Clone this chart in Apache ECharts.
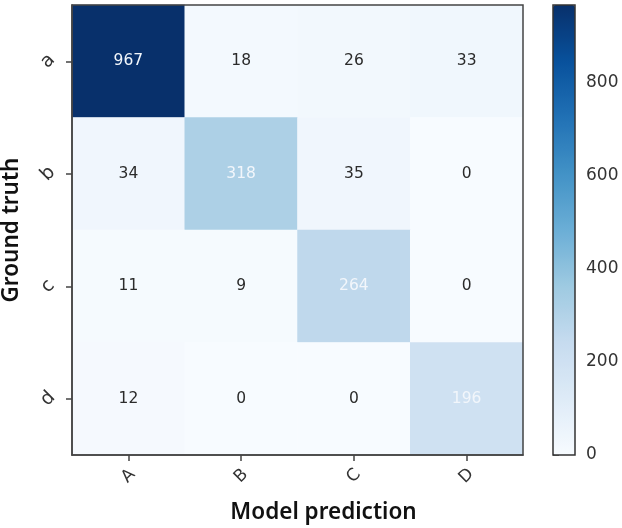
<!DOCTYPE html>
<html>
<head>
<meta charset="utf-8">
<script src="https://cdn.jsdelivr.net/npm/echarts@6/dist/echarts.min.js"></script>
<style>html,body{margin:0;padding:0;background:#fff}#c{width:622px;height:528px}</style>
</head>
<body>
<div id="c"></div>
<script>
const predicted = ['A', 'B', 'C', 'D'];
const truth = ['a', 'b', 'c', 'd'];
const rowA = [967, 18, 26, 33];
const rowB = [34, 318, 35, 0];
const rowC = [11, 9, 264, 0];
const rowD = [12, 0, 0, 196];
const rows = [rowA, rowB, rowC, rowD];
const colorbarMax = 967;
const blues = ['#f7fbff','#deebf7','#c6dbef','#9ecae1','#6baed6','#4292c6','#2171b5','#08519c','#08306b'];
const lightTextFrom = 150;

const cells = [];
rows.forEach((row, r) => row.forEach((v, c) => {
  cells.push({ value: [c, r, v], label: { color: v >= lightTextFrom ? '#f2f6fb' : '#2b2b2b' } });
}));

const axisLine = { show: true, lineStyle: { color: '#444', width: 1.5 } };
const axisTick = { show: true, alignWithLabel: true, length: 6, lineStyle: { color: '#444', width: 1.5 } };
const nameStyle = { fontFamily: 'Noto Sans', fontSize: 22.5, fontWeight: 600, color: '#111' };
const labelStyle = { fontFamily: 'DejaVu Sans', fontSize: 17, color: '#333', rotate: 45, align: 'center', verticalAlign: 'middle' };

const chart = echarts.init(document.getElementById('c'), null, { renderer: 'canvas' });
chart.setOption({
  animation: false,
  backgroundColor: '#fff',
  grid: [
    { left: 72, top: 5, width: 451, height: 450, outerBoundsMode: 'none', containLabel: false, show: true, borderColor: '#444', borderWidth: 1.5, backgroundColor: 'transparent', z: 5 },
    { left: 553, top: 5, width: 22, height: 450, outerBoundsMode: 'none', containLabel: false, show: true, borderColor: '#333', borderWidth: 1.5, backgroundColor: 'transparent', z: 5 }
  ],
  xAxis: [
    { type: 'category', gridIndex: 0, data: predicted, name: 'Model prediction', nameLocation: 'middle', nameGap: 46, nameTextStyle: { ...nameStyle, padding: [0, 0, 0, 52] },
      axisLine, axisTick, axisLabel: { ...labelStyle, margin: 21 }, splitLine: { show: false }, splitArea: { show: false }, z: 6 },
    { type: 'value', gridIndex: 1, min: 0, max: 1, axisLine: { show: false }, axisTick: { show: false }, axisLabel: { show: false }, splitLine: { show: false } }
  ],
  yAxis: [
    { type: 'category', gridIndex: 0, data: truth, inverse: true, name: 'Ground truth', nameLocation: 'middle', nameGap: 49, nameTextStyle: nameStyle,
      axisLine, axisTick, axisLabel: { ...labelStyle, margin: 24, fontSize: 19 }, splitLine: { show: false }, splitArea: { show: false }, z: 6 },
    { type: 'value', gridIndex: 1, position: 'right', min: 0, max: colorbarMax, interval: 200,
      axisLine: { show: false }, axisTick: { show: true, length: 6, lineStyle: { color: '#444', width: 1.5 } },
      axisLabel: { fontFamily: 'DejaVu Sans', fontSize: 17, color: '#333', margin: 11, showMaxLabel: false }, splitLine: { show: false } }
  ],
  visualMap: {
    type: 'continuous', min: 0, max: colorbarMax, calculable: false, seriesIndex: 0,
    left: 553, top: 5, itemWidth: 22, itemHeight: 450, padding: 0, text: null, showLabel: false,
    inRange: { color: blues }, textStyle: { color: 'transparent', fontSize: 1 }, z: 1
  },
  series: [{
    type: 'heatmap', xAxisIndex: 0, yAxisIndex: 0, data: cells,
    label: { show: true, fontFamily: 'DejaVu Sans', fontSize: 15.5, formatter: p => String(p.value[2]) },
    itemStyle: { borderWidth: 0 }, emphasis: { disabled: true }
  }]
});
</script>
</body>
</html>
